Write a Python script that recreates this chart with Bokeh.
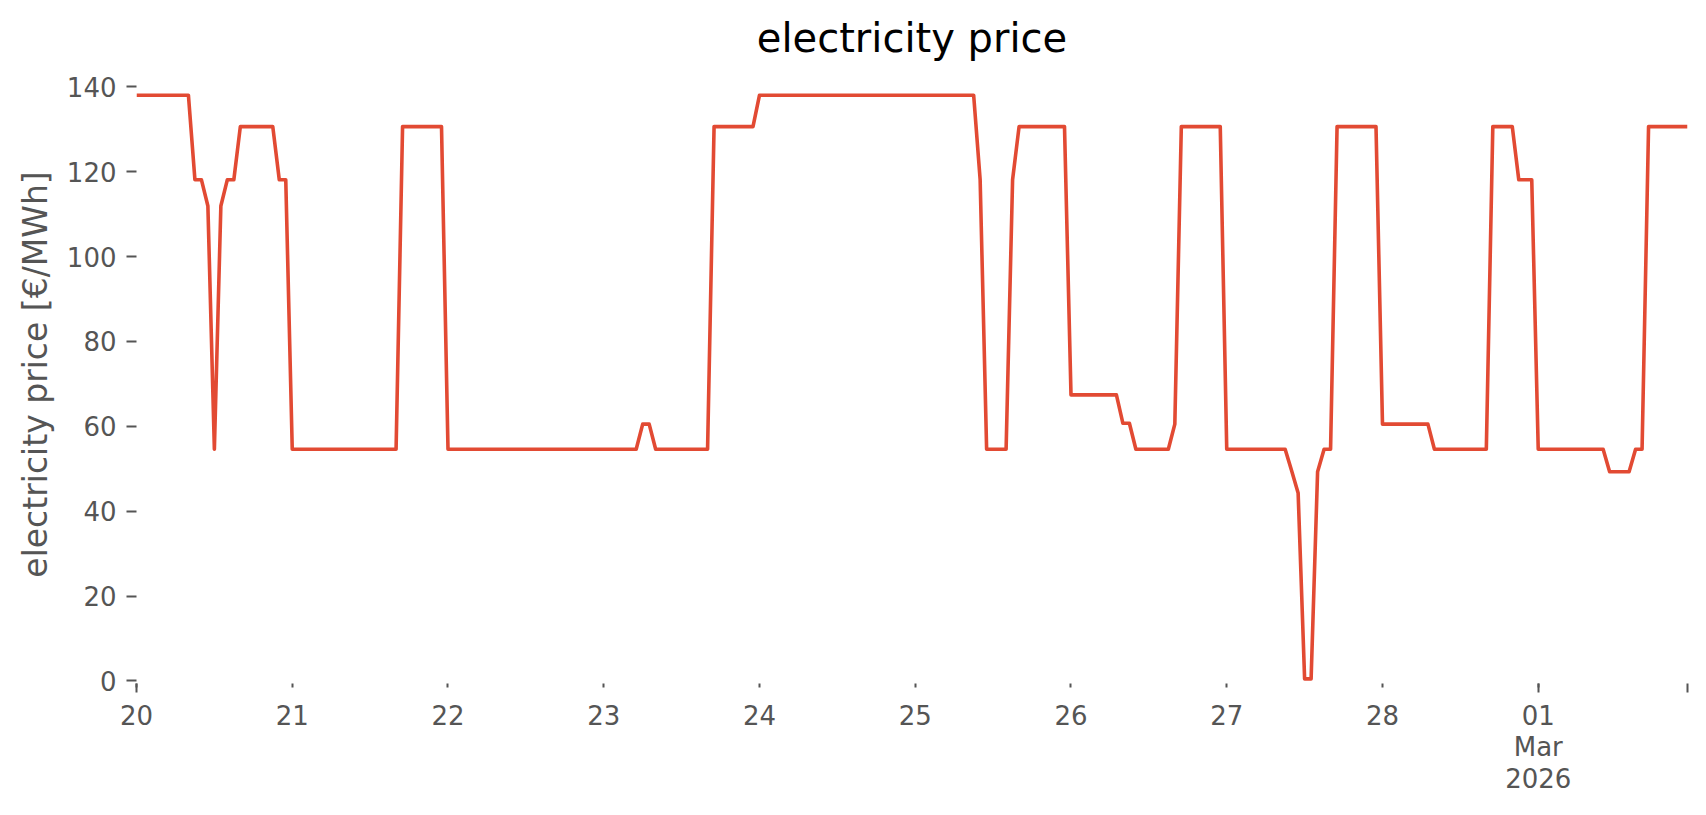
import pandas as pd
from bokeh.plotting import figure
from bokeh.models import FixedTicker, DatetimeTickFormatter, Range1d, ColumnDataSource
from bokeh.embed import file_html
from bokeh.resources import INLINE

# ---- data (hourly electricity price, EUR/MWh) ----
start_time = "2026-02-20 00:00"
feb20 = [138.0] * 9 + [118.1] * 2 + [111.9, 54.6, 111.9] + [118.1] * 2 + [130.6] * 6 + [118.1] * 2
feb21 = [54.6] * 17 + [130.6] * 7
feb22 = [54.6] * 24
feb23 = [54.6] * 6 + [60.5] * 2 + [54.6] * 9 + [130.6] * 7
feb24 = [138.0] * 24
feb25 = [138.0] * 10 + [118.1] + [54.6] * 4 + [118.1] + [130.6] * 8
feb26 = [67.4] * 8 + [60.7] * 2 + [54.6] * 6 + [60.5] + [130.6] * 7
feb27 = [54.6] * 10 + [49.5, 44.3, 0.5, 0.5, 49.3, 54.6, 54.6] + [130.6] * 7
feb28 = [60.5] * 8 + [54.6] * 9 + [130.6] * 4 + [118.1] * 3
mar01 = [54.6] * 11 + [49.3] * 4 + [54.6] * 2 + [130.6] * 7

price = feb20 + feb21 + feb22 + feb23 + feb24 + feb25 + feb26 + feb27 + feb28 + mar01
times = pd.date_range(start_time, periods=len(price), freq="h")

day_ticks = pd.date_range("2026-02-20", "2026-03-01", freq="D")
y_ticks = [0, 20, 40, 60, 80, 100, 120, 140]
month_label = "01\nMar\n2026"

def ms(t):
    return float(pd.Timestamp(t).value // 10**6)

x0, x1 = ms(times[0]), ms(times[-1])
src = ColumnDataSource(dict(t=times, price=price))

p = figure(width=1690, height=799, x_axis_type="datetime",
           output_backend="svg", toolbar_location=None,
           x_range=Range1d(x0, x1), y_range=Range1d(-0.6, 145),
           min_border_left=136, min_border_right=3,
           min_border_top=65, min_border_bottom=116,
           title="electricity price")
p.outline_line_color = None
p.grid.visible = False
p.background_fill_color = "white"
p.border_fill_color = "white"

p.title.text_font = "DejaVu Sans"
p.title.text_font_size = "40px"
p.title.text_font_style = "normal"
p.title.text_color = "black"
p.title.align = "center"

p.line("t", "price", source=src, line_color="#E24A33", line_width=3.6,
       line_join="round")

tick_col = "#555555"
ya = p.yaxis[0]
ya.ticker = FixedTicker(ticks=y_ticks)
ya.axis_line_color = None
ya.major_tick_out = 10
ya.major_tick_in = 0
ya.minor_tick_out = 0
ya.minor_tick_in = 0
ya.major_tick_line_color = tick_col
ya.major_tick_line_width = 2
ya.major_label_text_font = "DejaVu Sans"
ya.major_label_text_font_size = "26px"
ya.major_label_text_color = tick_col
ya.major_label_standoff = 10
ya.axis_label = "electricity price [€/MWh]"
ya.axis_label_text_font = "DejaVu Sans"
ya.axis_label_text_font_size = "33px"
ya.axis_label_text_font_style = "normal"
ya.axis_label_text_color = tick_col
ya.axis_label_standoff = 9

xa = p.xaxis[0]
xa.ticker = FixedTicker(ticks=[ms(d) for d in day_ticks],
                        minor_ticks=[ms(day_ticks[0]), ms(day_ticks[-1]), x1])
xa.formatter = DatetimeTickFormatter(days="%d", months="%d", hours="%d")
xa.major_label_overrides = {ms(day_ticks[-1]): month_label}
xa.axis_line_color = None
xa.major_tick_out = 4
xa.major_tick_in = 0
xa.minor_tick_out = 9
xa.minor_tick_in = 0
xa.major_tick_line_color = tick_col
xa.minor_tick_line_color = tick_col
xa.major_tick_line_width = 2
xa.minor_tick_line_width = 2
xa.major_label_text_font = "DejaVu Sans"
xa.major_label_text_font_size = "26px"
xa.major_label_text_color = tick_col
xa.major_label_text_line_height = 1.05
xa.major_label_standoff = 8

open("out.html", "w").write(file_html(p, INLINE))
